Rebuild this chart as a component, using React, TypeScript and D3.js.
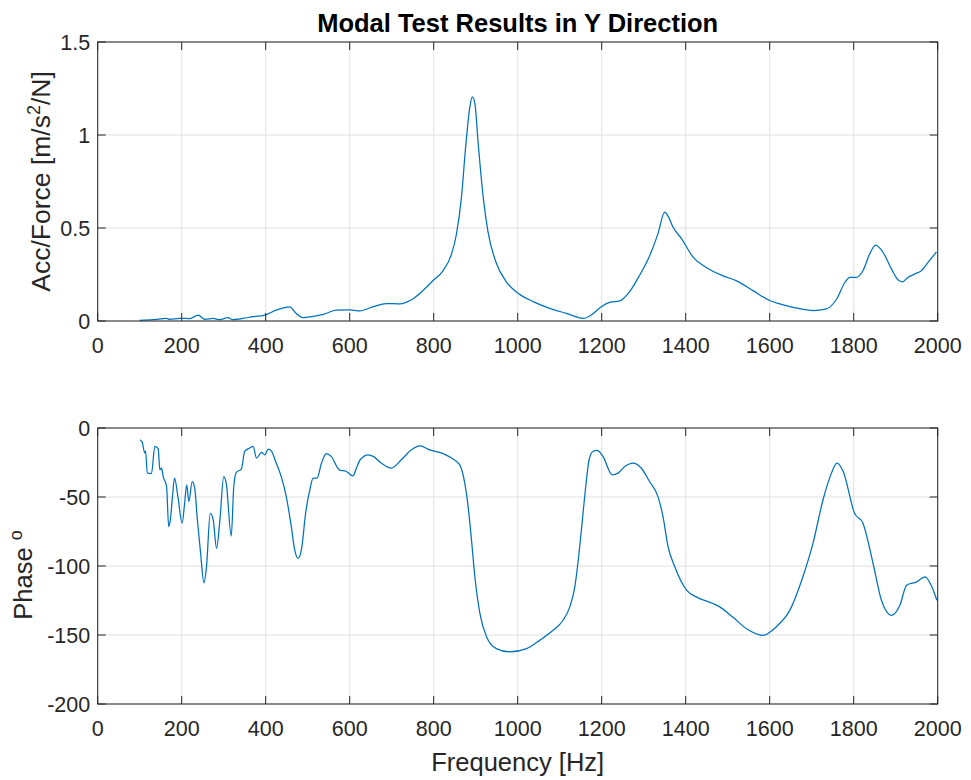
import React from "react";
import * as d3 from "d3";

const magFreq = [100,132,164,171,195,219,239,255,275,291,310,322,346,370,398,425,457,473,489,513,537,568,600,624,656,687,719,751,798,822,842,854,866,876,886,892,898,906,918,929,949,973,1001,1037,1076,1116,1156,1175,1199,1219,1243,1267,1291,1314,1334,1350,1358,1370,1390,1418,1449,1489,1521,1561,1600,1624,1648,1671,1703,1735,1759,1779,1791,1806,1822,1838,1852,1870,1890,1906,1916,1929,1945,1961,1977,1997];
const magValues = [0.004,0.007,0.014,0.009,0.014,0.013,0.031,0.009,0.014,0.007,0.018,0.007,0.014,0.023,0.032,0.058,0.076,0.04,0.018,0.025,0.036,0.058,0.06,0.054,0.077,0.094,0.092,0.12,0.216,0.27,0.357,0.465,0.663,0.934,1.15,1.205,1.17,0.952,0.663,0.483,0.312,0.21,0.149,0.104,0.068,0.041,0.014,0.032,0.077,0.1,0.108,0.159,0.249,0.35,0.47,0.585,0.564,0.504,0.443,0.342,0.288,0.243,0.216,0.162,0.11,0.092,0.077,0.066,0.056,0.065,0.117,0.207,0.234,0.234,0.27,0.36,0.408,0.369,0.279,0.22,0.211,0.234,0.252,0.27,0.315,0.372];

const phaseFreq = [101,106,112,114,118,128,136,144,148,152,156,164,169,173,178,183,191,201,207,212,217,225,231,237,245,253,259,268,275,283,291,300,306,318,324,330,342,350,362,370,378,390,398,406,414,425,437,449,461,469,477,485,495,505,513,522,533,544,556,575,592,608,616,625,644,656,675,699,723,747,767,790,814,846,862,874,882,890,898,910,926,949,981,1021,1052,1084,1108,1124,1136,1146,1154,1162,1170,1179,1189,1203,1225,1239,1255,1275,1294,1314,1334,1346,1358,1374,1402,1425,1465,1481,1512,1544,1584,1616,1648,1679,1703,1727,1747,1760,1775,1802,1822,1846,1866,1890,1910,1926,1950,1970,1986,1998];
const phaseValues = [-8.5,-10.4,-18,-16.7,-32.7,-33,-13.3,-15,-30.3,-29,-35.2,-42.4,-71.5,-66.6,-49.7,-36.3,-49.7,-69,-54.5,-41.2,-53.3,-38.8,-43.6,-65.4,-90.8,-112.2,-100.6,-61.8,-66.6,-87.2,-66.6,-35.2,-39.9,-78.3,-42.4,-32.2,-29.8,-17,-14.5,-13.3,-21.8,-17.7,-19.4,-15.3,-16.9,-25.4,-35.2,-49.7,-71.5,-88.4,-94.5,-88.4,-61.8,-44.8,-36.3,-36.3,-25.4,-18.6,-20.6,-30.3,-31.5,-34.7,-29,-23,-19.4,-20.6,-25.4,-29,-23,-15.8,-12.9,-15.8,-17.7,-22.5,-26.7,-40,-57,-81.2,-107.8,-134.4,-151.5,-159.9,-162.3,-159.9,-153.9,-146.6,-139.3,-129.6,-115.1,-90.8,-66.6,-42.4,-23,-17,-16.3,-20.6,-33.9,-32.7,-27.9,-25.4,-29,-38.8,-49.7,-64.2,-86,-100.6,-117.5,-122.4,-127.2,-129.6,-137,-145.3,-150.2,-144,-132,-107.8,-83.6,-52,-32.7,-25.4,-31.5,-61.8,-69,-98,-124.8,-135.7,-128.4,-113.9,-111.5,-107.8,-115,-124.8];

const xTicks = [0,200,400,600,800,1000,1200,1400,1600,1800,2000];
const magTicks = [0,0.5,1,1.5];
const phaseTicks = [0,-50,-100,-150,-200];

const AX = "#262626";
const GRID = "#e0e0e0";
const LINE = "#0072BD";
const FONT = "Liberation Sans, Arial, sans-serif";
const TICK_FS = 21.5;

const left = 97.7, right = 937.7;

function Panel({ top, bottom, yDomain, yTicks, xs, ys }: any) {
  const x = d3.scaleLinear().domain([0, 2000]).range([left, right]);
  const y = d3.scaleLinear().domain(yDomain).range([bottom, top]);
  const pts = xs.map((f: number, i: number) => [f, ys[i]] as [number, number]);
  const line = d3.line<[number, number]>().x(d => x(d[0])).y(d => y(d[1])).curve(d3.curveMonotoneX);
  const tl = 8;
  return (
    <g>
      <rect x={left} y={top} width={right - left} height={bottom - top} fill="#fff" />
      {xTicks.map(t => (
        <line key={"gx" + t} x1={x(t)} x2={x(t)} y1={top} y2={bottom} stroke={GRID} strokeWidth={1} />
      ))}
      {yTicks.map((t: number) => (
        <line key={"gy" + t} x1={left} x2={right} y1={y(t)} y2={y(t)} stroke={GRID} strokeWidth={1} />
      ))}
      <path d={line(pts) || ""} fill="none" stroke={LINE} strokeWidth={1.25} />
      <rect x={left} y={top} width={right - left} height={bottom - top} fill="none" stroke={AX} strokeWidth={1} />
      {xTicks.map(t => (
        <g key={"tx" + t}>
          <line x1={x(t)} x2={x(t)} y1={bottom} y2={bottom - tl} stroke={AX} />
          <line x1={x(t)} x2={x(t)} y1={top} y2={top + tl} stroke={AX} />
          <text x={x(t)} y={bottom + 31.5} textAnchor="middle" fontSize={TICK_FS} fill={AX} fontFamily={FONT}>{t}</text>
        </g>
      ))}
      {yTicks.map((t: number) => (
        <g key={"ty" + t}>
          <line x1={left} x2={left + tl} y1={y(t)} y2={y(t)} stroke={AX} />
          <line x1={right} x2={right - tl} y1={y(t)} y2={y(t)} stroke={AX} />
          <text x={left - 7.5} y={y(t) + 8} textAnchor="end" fontSize={TICK_FS} fill={AX} fontFamily={FONT}>{String(t)}</text>
        </g>
      ))}
    </g>
  );
}

export default function App() {
  const topTop = 42, topBottom = 321;
  const botTop = 428, botBottom = 704;
  return (
    <svg width={971} height={780} style={{ position: "absolute", left: 0, top: 0, background: "#fff" }} fontFamily={FONT}>
      <rect width={971} height={780} fill="#fff" />
      <text x={517.7} y={32} textAnchor="middle" fontSize={25.5} fontWeight="bold" fill="#000">Modal Test Results in Y Direction</text>
      <Panel top={topTop} bottom={topBottom} yDomain={[0, 1.5]} yTicks={magTicks} xs={magFreq} ys={magValues} />
      <Panel top={botTop} bottom={botBottom} yDomain={[-200, 0]} yTicks={phaseTicks} xs={phaseFreq} ys={phaseValues} />
      <text transform={`translate(50, ${(topTop + topBottom) / 2}) rotate(-90)`} textAnchor="middle" fontSize={26.5} fill={AX}>
        Acc/Force [m/s<tspan dy={-10} fontSize={18}>2</tspan><tspan dy={10}>/N]</tspan>
      </text>
      <text transform={`translate(32, 575) rotate(-90)`} textAnchor="middle" fontSize={25.5} fill={AX}>
        Phase <tspan dy={-10} fontSize={18}>o</tspan>
      </text>
      <text x={517.7} y={771} textAnchor="middle" fontSize={25.5} fill={AX}>Frequency [Hz]</text>
    </svg>
  );
}
